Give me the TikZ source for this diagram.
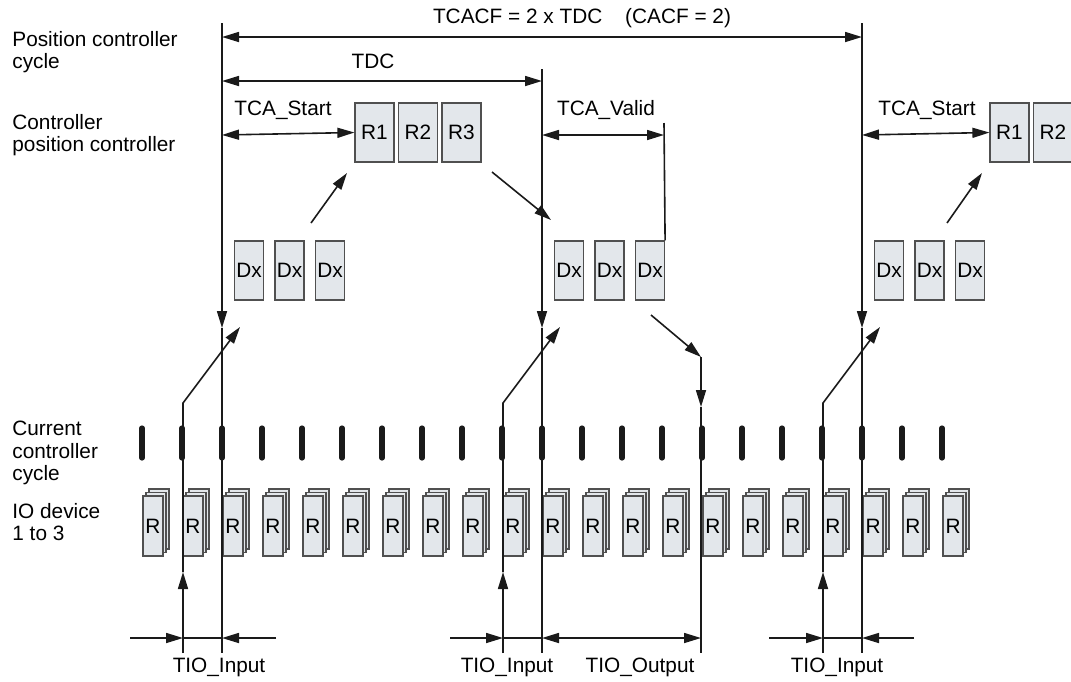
\documentclass[tikz,border=0pt]{standalone}
\usepackage{fontspec}
\setmainfont{Liberation Sans}
\usetikzlibrary{arrows.meta}
\definecolor{boxFill}{HTML}{E3E7EB}
\definecolor{boxLine}{HTML}{505050}
\definecolor{lineInk}{HTML}{1A1A1A}
\begin{document}
\begin{tikzpicture}[x=0.5pt,y=-0.5pt,>={Triangle[length=8.5pt,width=5pt]},
  font=\fontsize{10.4}{11.2}\selectfont,
  line/.style={draw=lineInk,line width=0.8pt},
  lbl/.style={anchor=west,align=left,inner sep=0pt},
  cbox/.style={draw=boxLine,fill=boxFill,line width=0.6pt,minimum width=19.5pt,minimum height=29.5pt,inner sep=0pt},
  dbox/.style={cbox,minimum width=14.5pt},
  iobox/.style={cbox,minimum width=10pt,minimum height=30pt},
  tick/.style={draw=lineInk,line width=2.6pt,line cap=round}
]
  \useasboundingbox (0,0) rectangle (1071,681);

  \node[lbl] (pcc) at (12,52) {Position controller\\cycle};
  \node[lbl] (ctl) at (12,135) {Controller\\position controller};
  \node[lbl] (cur) at (12,453) {Current\\controller\\cycle};
  \node[lbl] (iod) at (12,522) {IO device\\1 to 3};

  % controller blocks
  \foreach \i/\x in {1/374.5,2/418,3/461.5}
    \node[cbox] (r1\i) at (\x,132.5) {R\i};
  \foreach \i/\x in {1/1009.5,2/1053}
    \node[cbox] (r3\i) at (\x,132.5) {R\i};
  \foreach \g in {1,2,3}
    \foreach \i in {1,2,3}
      \node[dbox] (dx\g\i) at (208.5+320*\g-320+40.5*\i,270.5) {Dx};

  % IO devices and cycle ticks
  \foreach \i in {0,...,20} {
    \draw[tick] (142+40*\i,428) -- (142+40*\i,458);
    \node[iobox] at (159+40*\i,519) {};
    \node[iobox] at (156+40*\i,522.5) {};
    \node[iobox] (io\i) at (153+40*\i,526) {R};
  }

  % cycle lines
  \foreach \n/\x/\t in {1/222/23,2/542/69,3/862/23} {
    \coordinate (a\n) at (\x,\t);
    \coordinate (a\n m) at (\x,328);
    \coordinate (a\n b) at (\x,653);
    \draw[line,->] (a\n) -- (a\n m);
    \draw[line] (a\n m) -- (a\n b);
  }

  % input paths
  \foreach \n/\x in {1/183,2/503,3/823} {
    \coordinate (i\n b) at (\x,653);
    \coordinate (i\n m) at (\x,572);
    \coordinate (i\n k) at (\x,403);
    \coordinate (i\n t) at (\x+57,327);
    \draw[line,->] (i\n b) -- (i\n m);
    \draw[line,->] (i\n m) -- (i\n k) -- (i\n t);
  }

  % output path
  \coordinate (o1) at (651,315);
  \coordinate (o2) at (701,357);
  \coordinate (o3) at (701,407);
  \coordinate (o4) at (701,653);
  \draw[line,->] (o1) -- (o2);
  \draw[line,->] (o2) -- (o3);
  \draw[line] (o3) -- (o4);

  \draw[line,->] (311,223) -- (347,173);
  \draw[line,->] (947,223) -- (982,173);
  \draw[line,->] (492,172) -- (551,220);

  % time spans
  \node (tcacf) at (582,18) {TCACF = 2 x TDC\hspace{1.1em}(CACF = 2)};
  \draw[line,<->] (222,37) -- (862,37);
  \node (tdc) at (373,61) {TDC};
  \draw[line,<->] (222,81) -- (542,81);
  \node (tcas1) at (283,110) {TCA\_Start};
  \draw[line,<->] (222,135) -- (r11.west);
  \node (tcav) at (606,110) {TCA\_Valid};
  \coordinate (v1) at (664,123);
  \draw[line] (v1) -- (dx23.north east);
  \draw[line,<->] (542,135) -- (664,135);
  \node (tcas3) at (927,110) {TCA\_Start};
  \draw[line,<->] (862,135) -- (r31.west);

  \draw[line,->] (130,638) -- (183,638);
  \draw[line] (183,638) -- (222,638);
  \draw[line,->] (276,638) -- (222,638);
  \draw[line,->] (450,638) -- (503,638);
  \draw[line] (503,638) -- (542,638);
  \draw[line,<->] (542,638) -- (701,638);
  \draw[line,->] (769,638) -- (823,638);
  \draw[line] (823,638) -- (862,638);
  \draw[line,->] (914,638) -- (862,638);
  \node (tin1) at (219,667) {TIO\_Input};
  \node (tin2) at (507,667) {TIO\_Input};
  \node (tout) at (640,667) {TIO\_Output};
  \node (tin3) at (837,667) {TIO\_Input};
\end{tikzpicture}
\end{document}
